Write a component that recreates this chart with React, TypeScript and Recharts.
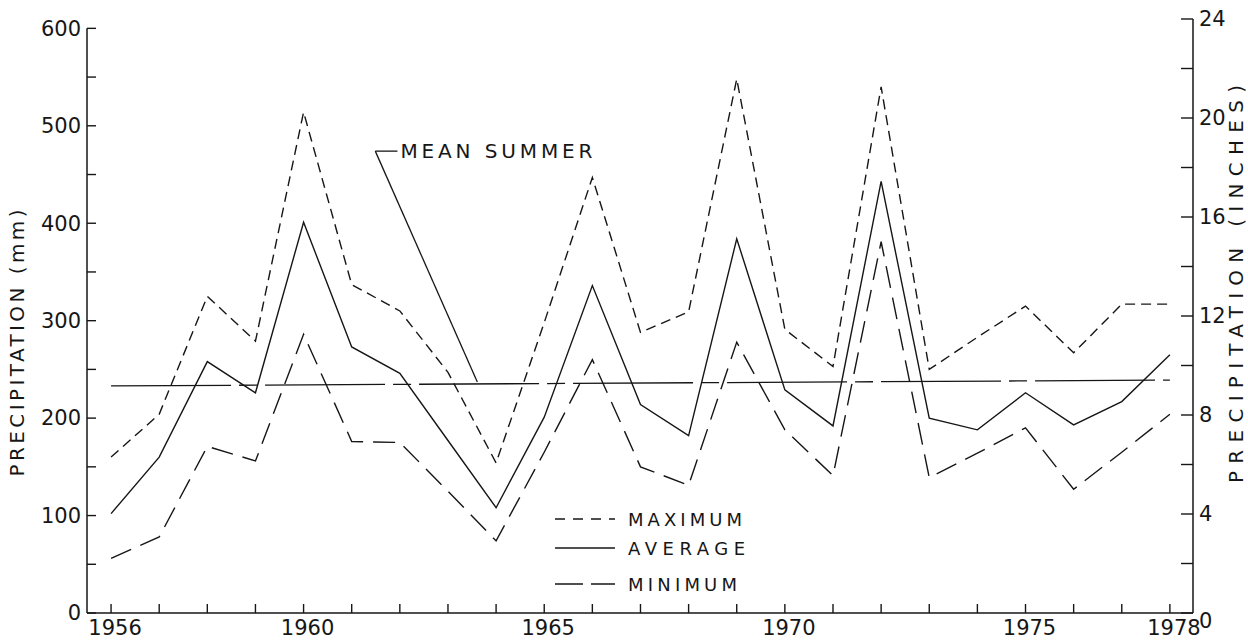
import { LineChart, Line, XAxis, YAxis, ReferenceLine } from "recharts";

// years on the horizontal axis
const years = [
  1956, 1957, 1958, 1959, 1960, 1961, 1962, 1963, 1964, 1965, 1966, 1967,
  1968, 1969, 1970, 1971, 1972, 1973, 1974, 1975, 1976, 1977, 1978,
];

// summer precipitation, mm
const maximum = [160, 204, 325, 279, 514, 337, 310, 247, 154, 298, 447, 288, 309, 548, 291, 253, 540, 250, 283, 315, 267, 317, 317];
const average = [102, 160, 258, 226, 401, 273, 246, 177, 108, 201, 336, 214, 182, 384, 229, 192, 443, 200, 188, 226, 193, 217, 265];
const minimum = [56, 78, 171, 156, 286, 176, 175, 125, 74, 165, 260, 150, 131, 278, 188, 141, 381, 139, 164, 190, 127, 165, 204];

// long-term mean summer line, mm at first and last year
const meanSummer = [233, 239];

const yearLabels = [1956, 1960, 1965, 1970, 1975, 1978];
const mmTicks = [0, 50, 100, 150, 200, 250, 300, 350, 400, 450, 500, 550, 600];
const mmLabels = [0, 100, 200, 300, 400, 500, 600];
const inchTicks = [0, 2, 4, 6, 8, 10, 12, 14, 16, 18, 20, 22, 24];
const inchLabels = [0, 4, 8, 12, 16, 20, 24];

const MM_PER_INCH = 25.4;
const X_MIN = 1955.5;
const X_MAX = 1978.48;

const INK = "#161616";
const FONT = "'DejaVu Sans', sans-serif";

const series = [
  { key: "maximum", label: "MAXIMUM", dash: "10 6", legendDash: "10 8" },
  { key: "average", label: "AVERAGE", dash: undefined, legendDash: undefined },
  { key: "minimum", label: "MINIMUM", dash: "22 10", legendDash: "28 8" },
];

const data = years.map((year, i) => ({
  year,
  maximum: maximum[i],
  average: average[i],
  minimum: minimum[i],
}));

const txt = { fontFamily: FONT, fontSize: 21, fill: INK } as const;

function YearTick({ x, y, payload }: any) {
  const v = payload.value;
  return (
    <g>
      <line x1={x} x2={x} y1={y} y2={y - 9} stroke={INK} strokeWidth={1.4} />
      {yearLabels.includes(v) && (
        <text x={x + 4} y={y + 15} dy="0.35em" textAnchor="middle" {...txt}>
          {v}
        </text>
      )}
    </g>
  );
}

function MmTick({ x, y, payload }: any) {
  const v = payload.value;
  return (
    <g>
      <line x1={x} x2={x + 9} y1={y} y2={y} stroke={INK} strokeWidth={1.4} />
      {mmLabels.includes(v) && (
        <text x={x - 6} y={y} dy="0.35em" textAnchor="end" {...txt}>
          {v}
        </text>
      )}
    </g>
  );
}

function InchTick({ x, y, payload }: any) {
  const v = payload.value;
  return (
    <g>
      <line x1={x} x2={x - 12} y1={y} y2={y} stroke={INK} strokeWidth={1.4} />
      {inchLabels.includes(v) && (
        <text x={x + 6} y={v === 0 ? y + 8 : y} dy="0.35em" textAnchor="start" {...txt}>
          {v}
        </text>
      )}
    </g>
  );
}

export default function App() {
  return (
    <div style={{ position: "absolute", left: 0, top: 0, width: 1248, height: 641, background: "#fff" }}>
      <LineChart
        width={1248}
        height={641}
        data={data}
        margin={{ top: 19, right: 54, bottom: 27, left: 86 }}
      >
        <XAxis
          dataKey="year"
          type="number"
          domain={[X_MIN, X_MAX]}
          allowDataOverflow
          ticks={years}
          interval={0}
          height={1}
          tickSize={0}
          tickMargin={0}
          tickLine={false}
          axisLine={{ stroke: INK, strokeWidth: 1.5 }}
          tick={(p: any) => <YearTick {...p} />}
        />
        <YAxis
          yAxisId="mm"
          type="number"
          domain={[0, 24 * MM_PER_INCH]}
          allowDataOverflow
          ticks={mmTicks}
          interval={0}
          width={1}
          tickSize={0}
          tickMargin={0}
          tickLine={false}
          axisLine={false}
          tick={(p: any) => <MmTick {...p} />}
          label={{
            content: ({ viewBox }: any) => {
              const cx = 17;
              const cy = viewBox.y + viewBox.height / 2 + 27;
              return (
                <text
                  x={cx}
                  y={cy}
                  transform={`rotate(-90, ${cx}, ${cy})`}
                  textAnchor="middle"
                  dominantBaseline="central"
                  textLength={267}
                  lengthAdjust="spacing"
                  {...txt}
                  fontSize={20}
                >
                  PRECIPITATION (mm)
                </text>
              );
            },
          }}
        />
        <YAxis
          yAxisId="in"
          orientation="right"
          type="number"
          domain={[0, 24]}
          allowDataOverflow
          ticks={inchTicks}
          interval={0}
          width={1}
          tickSize={0}
          tickMargin={0}
          tickLine={false}
          axisLine={{ stroke: INK, strokeWidth: 1.5 }}
          tick={(p: any) => <InchTick {...p} />}
          label={{
            content: ({ viewBox }: any) => {
              const cx = 1236;
              const cy = viewBox.y + viewBox.height / 2 - 32;
              return (
                <text
                  x={cx}
                  y={cy}
                  transform={`rotate(-90, ${cx}, ${cy})`}
                  textAnchor="middle"
                  dominantBaseline="central"
                  textLength={398}
                  lengthAdjust="spacing"
                  {...txt}
                  fontSize={20}
                >
                  PRECIPITATION (INCHES)
                </text>
              );
            },
          }}
        />

        {/* left axis stops at 600 mm */}
        <ReferenceLine
          yAxisId="mm"
          segment={[{ x: X_MIN, y: 0 }, { x: X_MIN, y: 600 }]}
          stroke={INK}
          strokeWidth={1.5}
          ifOverflow="visible"
        />

        {/* mean summer line and its leader */}
        <ReferenceLine
          yAxisId="mm"
          segment={[
            { x: years[0], y: meanSummer[0] },
            { x: years[years.length - 1], y: meanSummer[1] },
          ]}
          stroke={INK}
          strokeWidth={1.3}
          strokeDasharray="120 8 18 8"
          ifOverflow="visible"
        />
        <ReferenceLine
          yAxisId="mm"
          segment={[{ x: 1961.49, y: 474 }, { x: 1963.61, y: 237 }]}
          stroke={INK}
          strokeWidth={1.3}
          ifOverflow="visible"
        />
        <ReferenceLine
          yAxisId="mm"
          segment={[{ x: 1961.49, y: 474 }, { x: 1961.95, y: 474 }]}
          stroke={INK}
          strokeWidth={1.3}
          ifOverflow="visible"
          label={{
            content: ({ viewBox }: any) => (
              <text
                x={viewBox.x + viewBox.width + 3}
                y={viewBox.y}
                dominantBaseline="central"
                textLength={192}
                lengthAdjust="spacing"
                {...txt}
                fontSize={20}
              >
                MEAN SUMMER
              </text>
            ),
          }}
        />

        {series.map((s) => (
          <Line
            key={s.key}
            yAxisId="mm"
            type="linear"
            dataKey={s.key}
            stroke={INK}
            strokeWidth={1.4}
            strokeDasharray={s.dash}
            dot={false}
            activeDot={false}
            isAnimationActive={false}
          />
        ))}
      </LineChart>

      <svg
        width={1248}
        height={641}
        style={{ position: "absolute", left: 0, top: 0, pointerEvents: "none" }}
      >
        {series.map((s, i) => {
          const y = [519, 548, 584][i];
          const len = [114, 117, 109][i];
          return (
            <g key={s.key}>
              <line x1={555} x2={615} y1={y} y2={y} stroke={INK} strokeWidth={1.4} strokeDasharray={s.legendDash} />
              <text
                x={628}
                y={y}
                dominantBaseline="central"
                textLength={len}
                lengthAdjust="spacing"
                {...txt}
                fontSize={18}
              >
                {s.label}
              </text>
            </g>
          );
        })}
      </svg>
    </div>
  );
}
